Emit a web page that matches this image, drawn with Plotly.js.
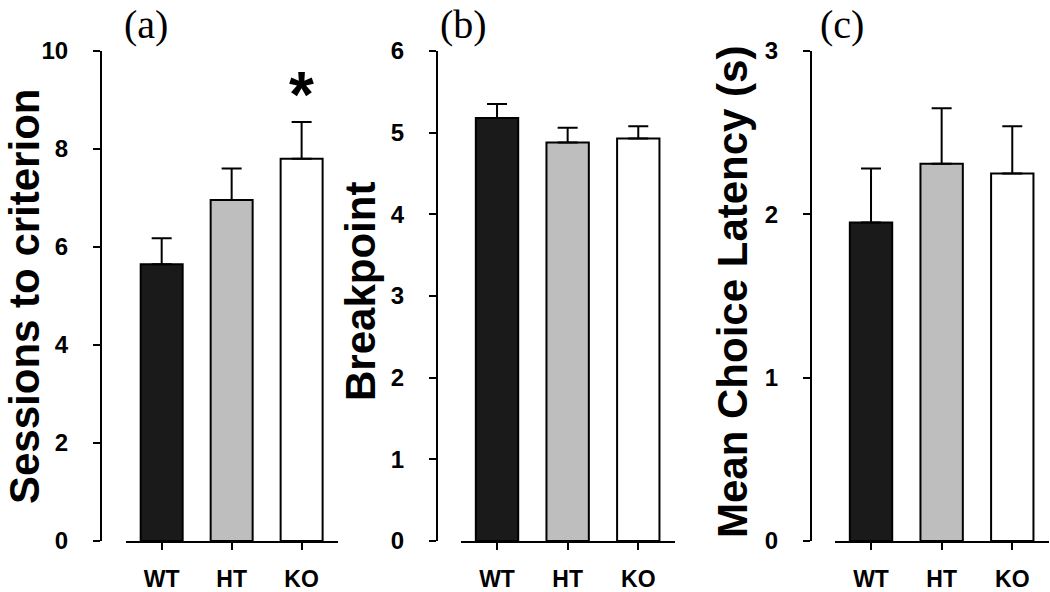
<!DOCTYPE html>
<html>
<head>
<meta charset="utf-8">
<script src="https://cdn.plot.ly/plotly-3.0.1.min.js"></script>
<style>
  html, body { margin: 0; padding: 0; background: #ffffff; }
  #chart { width: 1050px; height: 592px; }
</style>
</head>
<body>
<div id="chart"></div>
<script>
// Data
const groups = ['WT', 'HT', 'KO'];
const barColors = ['#1a1a1a', '#bebebe', '#ffffff'];

const sessions = [5.65, 6.96, 7.8];
const sessionsErr = [0.53, 0.64, 0.75];

const breakpoint = [5.18, 4.88, 4.93];
const breakpointErr = [0.17, 0.18, 0.15];

const latency = [1.95, 2.31, 2.25];
const latencyErr = [0.33, 0.34, 0.29];

const panelLabels = ['(a)', '(b)', '(c)'];
const yTitles = ['Sessions to criterion', 'Breakpoint', 'Mean Choice Latency (s)'];

const sans = 'Liberation Sans, Arial, sans-serif';
const serif = 'Liberation Serif, Times New Roman, serif';
const W = 1050, H = 592;

function barTrace(values, errs, xa, ya) {
    return {
        x: groups,
        y: values,
        type: 'bar',
        xaxis: xa,
        yaxis: ya,
        width: 0.6,
        marker: { color: barColors, line: { color: '#000000', width: 2 } },
        error_y: {
            type: 'data',
            symmetric: false,
            array: errs,
            arrayminus: errs.map(() => 0),
            color: '#000000',
            thickness: 2,
            width: 10
        },
        hoverinfo: 'x+y',
        showlegend: false
    };
}

const traces = [
    barTrace(sessions, sessionsErr, 'x', 'y'),
    barTrace(breakpoint, breakpointErr, 'x2', 'y2'),
    barTrace(latency, latencyErr, 'x3', 'y3')
];

// plot area 51px .. 541px from the top
const yDomain = [(H - 541) / H, (H - 51) / H];

function xAxis(x0, x1, anchor) {
    return {
        domain: [x0 / W, x1 / W],
        anchor: anchor,
        type: 'category',
        range: [-0.51, 2.52],
        showline: true,
        linecolor: '#000000',
        linewidth: 2,
        ticks: 'outside',
        ticklen: 7,
        tickwidth: 2,
        tickcolor: '#000000',
        ticklabelstandoff: 9,
        showgrid: false,
        zeroline: false,
        fixedrange: true,
        tickfont: { family: sans, size: 23, weight: 'bold', color: '#000000' }
    };
}

function yAxis(pos, maxV, step) {
    return {
        domain: yDomain,
        anchor: 'free',
        position: pos / W,
        range: [0, maxV],
        dtick: step,
        tick0: 0,
        showline: true,
        linecolor: '#000000',
        linewidth: 2,
        ticks: 'outside',
        ticklen: 7,
        tickwidth: 2,
        tickcolor: '#000000',
        ticklabelstandoff: 20,
        showgrid: false,
        zeroline: false,
        fixedrange: true,
        tickfont: { family: sans, size: 24, weight: 'bold', color: '#000000' }
    };
}

const annotations = [];
const labelX = [146, 463, 842];
panelLabels.forEach((t, i) => {
    annotations.push({
        text: t, xref: 'paper', yref: 'paper',
        x: labelX[i] / W, y: (H - 24) / H,
        xanchor: 'center', yanchor: 'middle', showarrow: false,
        font: { family: serif, size: 40, color: '#000000' }
    });
});
const titleX = [24, 360, 732];
const titleY = [297, 292, 292];
yTitles.forEach((t, i) => {
    annotations.push({
        text: t, xref: 'paper', yref: 'paper',
        x: titleX[i] / W, y: (H - titleY[i]) / H,
        xanchor: 'center', yanchor: 'middle', textangle: -90, showarrow: false,
        font: { family: sans, size: 42, weight: 'bold', color: '#000000' }
    });
});
// significance marker above KO
annotations.push({
    text: '*', xref: 'x', yref: 'paper',
    x: 'KO', y: (H - 86) / H,
    xanchor: 'center', yanchor: 'middle', showarrow: false, yshift: -9,
    font: { family: sans, size: 64, weight: 'bold', color: '#000000' }
});

const layout = {
    width: W,
    height: H,
    margin: { l: 0, r: 0, t: 0, b: 0 },
    paper_bgcolor: '#ffffff',
    plot_bgcolor: '#ffffff',
    bargap: 0.4,
    xaxis: xAxis(126, 338, 'y'),
    yaxis: yAxis(101, 10, 2),
    xaxis2: xAxis(461, 675, 'y2'),
    yaxis2: yAxis(437, 6, 1),
    xaxis3: xAxis(835, 1049, 'y3'),
    yaxis3: yAxis(811, 3, 1),
    annotations: annotations,
    font: { family: sans, color: '#000000' }
};

Plotly.newPlot('chart', traces, layout, { displayModeBar: false, staticPlot: true });
</script>
</body>
</html>
